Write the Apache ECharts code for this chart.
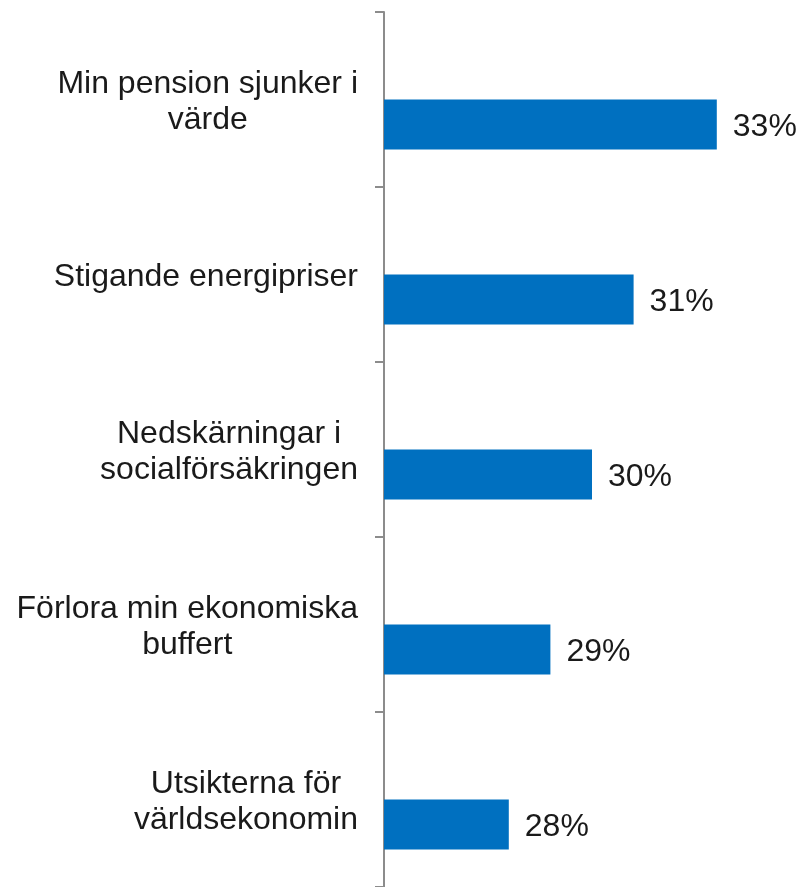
<!DOCTYPE html>
<html>
<head>
    <meta charset="utf-8">
    <title>Oro för ekonomin</title>
    <script src="https://cdn.jsdelivr.net/npm/echarts@6/dist/echarts.min.js"></script>
    <style type="text/css">
        html, body {
            margin: 0;
            padding: 0;
            background-color: #ffffff;
        }
        .main {
            width: 800px;
            height: 887px;
        }
    </style>
</head>
<body>
    <div id="main" class="main"></div>
    <script type="text/javascript">
        // kategorier och andelar (procent)
        var categories = [
            'Min pension sjunker i\nvärde',
            'Stigande energipriser',
            'Nedskärningar i\nsocialförsäkringen',
            'Förlora min ekonomiska\nbuffert',
            'Utsikterna för\nvärldsekonomin'
        ];
        var values = [33, 31, 30, 29, 28];
        var axisMin = 25;
        var axisMax = 35;

        var myChart = echarts.init(document.getElementById('main'));

        var font = '"Liberation Sans", Arial, sans-serif';

        myChart.setOption({
            animation: false,
            grid: {
                left: 384,
                right: 0,
                top: 12,
                bottom: 0
            },
            xAxis: {
                type: 'value',
                min: axisMin,
                max: axisMax,
                show: false
            },
            yAxis: {
                type: 'category',
                inverse: true,
                data: categories,
                axisLine: {
                    show: true,
                    lineStyle: { color: '#8c8c8c', width: 2 }
                },
                axisTick: {
                    show: true,
                    inside: false,
                    length: 9,
                    lineStyle: { color: '#8c8c8c', width: 2 }
                },
                axisLabel: {
                    margin: 26,
                    padding: [6, 0, 0, 0],
                    color: '#1a1a1a',
                    fontFamily: font,
                    fontSize: 32,
                    lineHeight: 36,
                    formatter: function (value) {
                        // varje rad centreras inom blocket
                        return value.split('\n').map(function (l) {
                            return '{c|' + l + '}';
                        }).join('\n');
                    },
                    rich: {
                        c: {
                            align: 'center',
                            color: '#1a1a1a',
                            fontFamily: font,
                            fontSize: 32,
                            lineHeight: 36
                        }
                    }
                }
            },
            series: [{
                // tom serie som skjuter ned staplarna, som i originalet
                type: 'bar',
                name: 'tom',
                data: [],
                barWidth: 50,
                barGap: 0,
                silent: true
            }, {
                type: 'bar',
                name: 'Andel',
                data: values,
                barWidth: 50,
                barGap: 0,
                itemStyle: { color: '#0070C0' },
                label: {
                    show: true,
                    position: 'right',
                    distance: 16,
                    offset: [0, 3],
                    formatter: '{c}%',
                    color: '#1a1a1a',
                    fontFamily: font,
                    fontSize: 32
                }
            }]
        });
    </script>
</body>
</html>
